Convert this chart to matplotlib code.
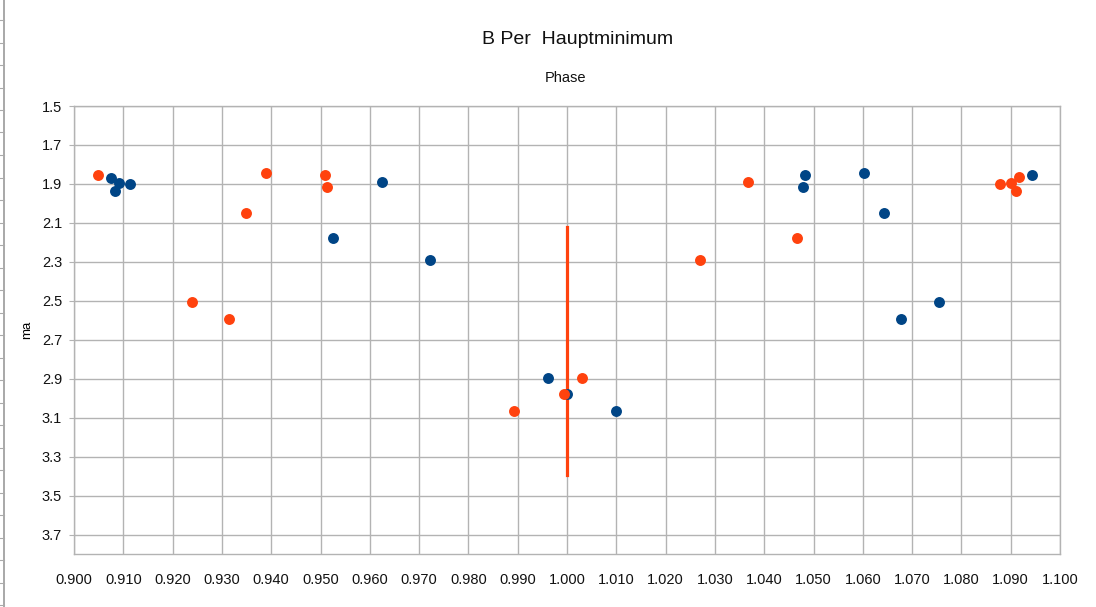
import matplotlib.pyplot as plt
from matplotlib.lines import Line2D

plt.rcParams['font.family'] = ['Liberation Sans', 'DejaVu Sans']

# blue series (phase, magnitude)
blue_phase = [0.9075, 0.9091, 0.9083, 0.9114, 0.9526, 0.9624, 0.9723,
              0.9962, 1.0001, 1.0099,
              1.0478, 1.0482, 1.0603, 1.0644, 1.0678, 1.0754, 1.0943]
blue_mag = [1.868, 1.896, 1.934, 1.902, 2.178, 1.891, 2.293,
            2.898, 2.979, 3.065,
            1.917, 1.854, 1.842, 2.049, 2.594, 2.508, 1.854]

# orange series
orange_phase = [0.9049, 0.9239, 0.9315, 0.9348, 0.9390, 0.9509, 0.9514,
                0.9893, 0.9994, 1.0030,
                1.0269, 1.0367, 1.0466, 1.0878, 1.0901, 1.0910, 1.0917]
orange_mag = [1.854, 2.508, 2.594, 2.049, 1.842, 1.854, 1.917,
              3.065, 2.979, 2.898,
              2.293, 1.891, 2.178, 1.902, 1.896, 1.934, 1.866]

# minimum marker line
min_phase = [1.000, 1.000]
min_mag = [2.12, 3.395]

x_ticks = [0.90 + 0.01 * i for i in range(21)]
y_ticks = [1.5 + 0.2 * i for i in range(12)]

BLUE = '#004586'
ORANGE = '#ff420e'
GRID = '#b3b3b3'

fig = plt.figure(figsize=(10.96, 6.07), dpi=100)
ax = fig.add_axes([74 / 1096, 1 - 554 / 607, (1060 - 74) / 1096, (554 - 106) / 607])

ax.plot(min_phase, min_mag, color=ORANGE, linewidth=2.3, zorder=2)
ax.scatter(blue_phase, blue_mag, s=62, color=BLUE, zorder=3, linewidths=0)
ax.scatter(orange_phase, orange_mag, s=62, color=ORANGE, zorder=4, linewidths=0)

ax.set_xlim(0.9, 1.1)
ax.set_ylim(3.8, 1.5)
ax.set_xticks(x_ticks)
ax.set_xticklabels([f"{v:.3f}" for v in x_ticks])
ax.set_yticks(y_ticks)
ax.set_yticklabels([f"{v:.1f}" for v in y_ticks])

ax.grid(True, color=GRID, linewidth=1)
ax.set_axisbelow(True)
for sp in ax.spines.values():
    sp.set_color(GRID)
    sp.set_linewidth(1)

ax.tick_params(axis='x', length=0, pad=14, labelsize=10.5, labelcolor='#111111')
ax.tick_params(axis='y', length=3.6, color=GRID, pad=5, labelsize=10.5, labelcolor='#111111')

ax.set_ylabel('ma', fontsize=9.5)
ax.yaxis.set_label_coords(-0.041, 0.5)

fig.text(578 / 1096, 1 - 40 / 607, 'B Per  Hauptminimum', ha='center', va='center',
         fontsize=14, color='#111111')
fig.text(566 / 1096, 1 - 78 / 607, 'Phase', ha='center', va='center',
         fontsize=10.5, color='#111111')

# spreadsheet ruler strip at the left edge
fig.add_artist(Line2D([4 / 1096, 4 / 1096], [0, 1], color='#999999', linewidth=1.2))
for i in range(28):
    yy = 1 - (20 + i * 22.5) / 607
    fig.add_artist(Line2D([0, 4 / 1096], [yy, yy], color='#aaaaaa', linewidth=0.8))

fig.savefig('out.png', dpi=100)
